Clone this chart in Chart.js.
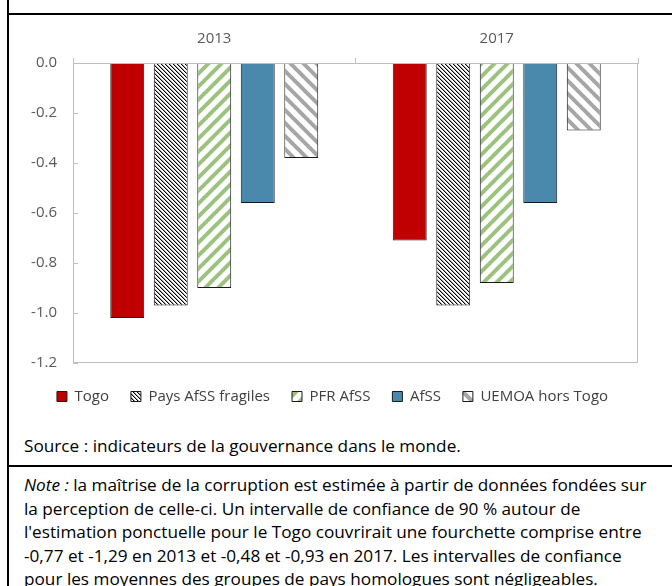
<!DOCTYPE html>
<html>
<head>
<meta charset="utf-8">
<script src="https://cdn.jsdelivr.net/npm/chart.js@4/dist/chart.umd.min.js"></script>
<style>
  body { margin: 0; background: #fff; width: 672px; height: 586px; overflow: hidden; position: relative; font-family: "Open Sans", sans-serif; }
  .vline { position: absolute; left: 7px; top: 0; width: 2px; height: 586px; background: #000; }
  .hline { position: absolute; left: 7px; width: 665px; height: 2px; background: #000; }
  #chart { position: absolute; left: 9px; top: 16px; }
  .source { position: absolute; left: 24px; top: 434px; font-size: 17.2px; line-height: 23.5px; color: #000; white-space: nowrap; }
  .note { position: absolute; left: 24px; top: 473px; font-size: 17.2px; line-height: 23.5px; color: #000; white-space: nowrap; }
</style>
</head>
<body>
<div class="vline"></div>
<div class="hline" style="top:13px"></div>
<div class="hline" style="top:465px"></div>
<canvas id="chart" width="647" height="398"></canvas>
<div class="source">Source : indicateurs de la gouvernance dans le monde.</div>
<div class="note"><i>Note :</i> la maîtrise de la corruption est estimée à partir de données fondées sur<br>la perception de celle-ci. Un intervalle de confiance de 90 % autour de<br>l'estimation ponctuelle pour le Togo couvrirait une fourchette comprise entre<br>-0,77 et -1,29 en 2013 et -0,48 et -0,93 en 2017. Les intervalles de confiance<br>pour les moyennes des groupes de pays homologues sont négligeables.</div>
<script>
const years = ["2013", "2017"];
const seriesNames = ["Togo", "Pays AfSS fragiles", "PFR AfSS", "AfSS", "UEMOA hors Togo"];
const togo = [-1.02, -0.71];
const fragiles = [-0.97, -0.97];
const pfr = [-0.90, -0.88];
const afss = [-0.56, -0.56];
const uemoa = [-0.38, -0.27];
const yTicks = { min: -1.2, max: 0, step: 0.2 };

function stripes(size, width, color, upward) {
    const c = document.createElement("canvas");
    c.width = size; c.height = size;
    const g = c.getContext("2d");
    g.fillStyle = "#fff";
    g.fillRect(0, 0, size, size);
    g.strokeStyle = color;
    g.lineWidth = width;
    for (let k = -1; k <= 1; k++) {
        g.beginPath();
        if (upward) {
            g.moveTo(k * size - 1, size + 1);
            g.lineTo(k * size + size + 1, -1);
        } else {
            g.moveTo(k * size - 1, -1);
            g.lineTo(k * size + size + 1, size + 1);
        }
        g.stroke();
    }
    return g.createPattern(c, "repeat");
}

function fineHatch() {
    const c = document.createElement("canvas");
    c.width = 4; c.height = 4;
    const g = c.getContext("2d");
    g.fillStyle = "#fff";
    g.fillRect(0, 0, 4, 4);
    g.fillStyle = "#000";
    for (let i = 0; i < 4; i++) g.fillRect(i, i, 1, 1);
    g.fillStyle = "rgba(0,0,0,0.35)";
    for (let i = 0; i < 4; i++) g.fillRect((i + 1) % 4, i, 1, 1);
    return g.createPattern(c, "repeat");
}

const fills = [
    "#c00000",
    fineHatch(),
    stripes(13, 4, "#9bc37d", true),
    "#4a89ab",
    stripes(13, 4, "#a6a6a6", false)
];
const values = [togo, fragiles, pfr, afss, uemoa];

const frame = {
    id: "frame",
    afterDraw(chart) {
        const { ctx, chartArea: a, scales: { y } } = chart;
        ctx.save();
        ctx.strokeStyle = "#bfbfbf";
        ctx.lineWidth = 1;
        ctx.strokeRect(a.left + 0.5, a.top + 0.5, a.right - a.left - 1, a.bottom - a.top - 1);
        y.ticks.forEach(t => {
            const py = Math.round(y.getPixelForValue(t.value)) + 0.5;
            ctx.beginPath();
            ctx.moveTo(a.left, py);
            ctx.lineTo(a.left + 5, py);
            ctx.stroke();
        });
        ctx.restore();
    }
};

Chart.defaults.font.family = "'Open Sans', sans-serif";

new Chart(document.getElementById("chart"), {
    type: "bar",
    data: {
        labels: years,
        datasets: seriesNames.map((name, i) => ({
            label: name,
            data: values[i],
            backgroundColor: fills[i],
            borderColor: "#1a1a1a",
            borderWidth: 1,
            categoryPercentage: 0.77,
            barPercentage: 0.78
        }))
    },
    options: {
        responsive: false,
        animation: false,
        devicePixelRatio: 1,
        layout: { padding: 0 },
        plugins: {
            tooltip: { enabled: false },
            legend: {
                position: "bottom",
                title: { display: true, text: "", font: { size: 4, lineHeight: 1 }, padding: 0 },
                labels: {
                    boxWidth: 10,
                    boxHeight: 10,
                    padding: 22,
                    color: "#404040",
                    font: { size: 15 }
                }
            }
        },
        scales: {
            x: {
                position: "top",
                offset: true,
                grid: { offset: true, drawOnChartArea: false, drawTicks: true, tickLength: 5, color: "#bfbfbf" },
                border: { color: "#bfbfbf" },
                ticks: { color: "#595959", font: { size: 15 }, padding: 10 },
                afterFit(s) { s.height = 47; }
            },
            y: {
                min: yTicks.min,
                max: yTicks.max,
                grid: { drawOnChartArea: false, drawTicks: false },
                border: { color: "#bfbfbf" },
                ticks: {
                    stepSize: yTicks.step,
                    color: "#595959",
                    font: { size: 15 },
                    padding: 16,
                    callback: v => Number(v).toFixed(1)
                },
                afterFit(s) { s.width = 64; }
            },
            y2: {
                position: "right",
                grid: { display: false },
                border: { display: false },
                ticks: { display: false },
                afterFit(s) { s.width = 18; }
            }
        }
    },
    plugins: [frame]
});
</script>
</body>
</html>
